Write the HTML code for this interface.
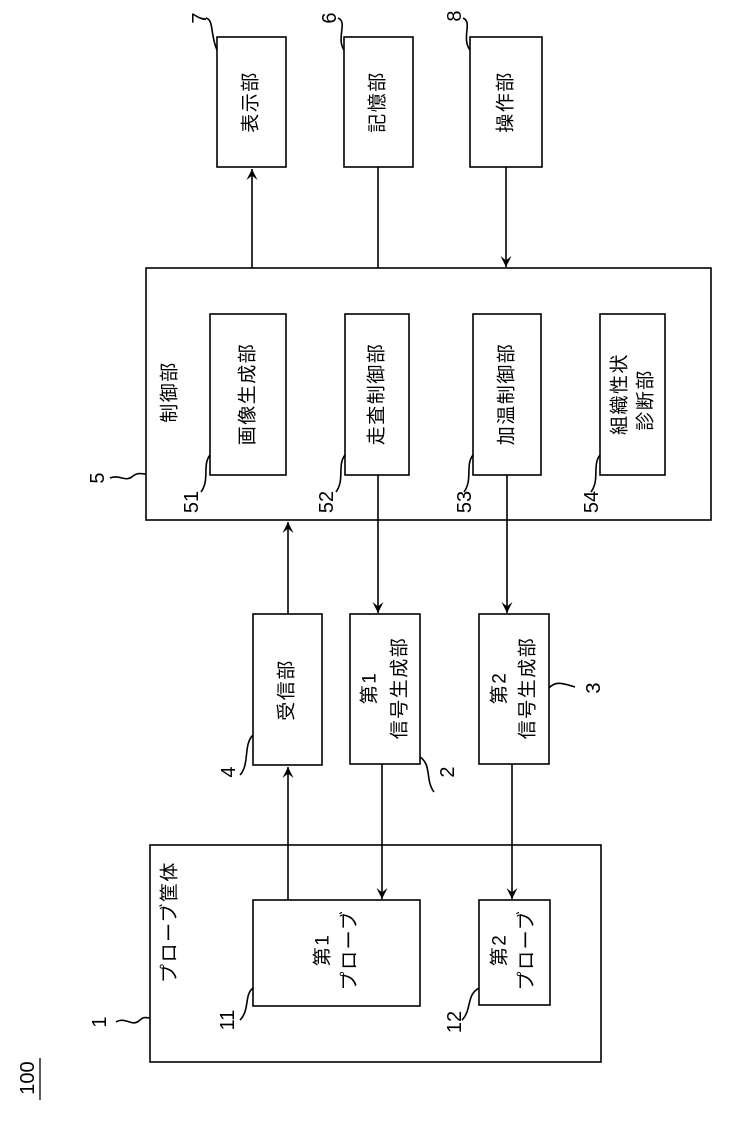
<!DOCTYPE html>
<html><head><meta charset="utf-8"><style>
html,body{margin:0;padding:0;background:#fff;}
svg{display:block;}
text{font-family:"Liberation Sans","Noto Sans CJK JP",sans-serif;font-size:19px;letter-spacing:1.5px;fill:#000;}
.n{font-size:20px;letter-spacing:0;}
</style></head><body>
<svg width="732" height="1122" viewBox="0 0 732 1122" xmlns="http://www.w3.org/2000/svg">
<defs>
<marker id="a" viewBox="0 0 10 10" refX="10" refY="5" markerWidth="11" markerHeight="11" orient="auto" markerUnits="userSpaceOnUse">
<path d="M0,0 L10,5 L0,10 L4,5 Z" fill="#000"/>
</marker>
</defs>
<g fill="none" stroke="#000" stroke-width="1.6">
<rect x="217" y="37" width="69" height="130"/>
<rect x="344" y="37" width="69" height="130"/>
<rect x="470" y="37" width="72" height="130"/>
<rect x="146" y="268" width="565" height="252"/>
<rect x="210" y="314" width="76" height="161"/>
<rect x="345" y="314" width="64" height="161"/>
<rect x="473" y="314" width="68" height="161"/>
<rect x="600" y="314" width="65" height="161"/>
<rect x="253" y="614" width="69" height="151"/>
<rect x="350" y="614" width="70" height="150"/>
<rect x="479" y="614" width="70" height="150"/>
<rect x="150" y="845" width="451" height="217"/>
<rect x="253" y="900" width="167" height="106"/>
<rect x="479" y="900" width="71" height="105"/>
<line x1="252" y1="268" x2="252" y2="169" marker-end="url(#a)"/>
<line x1="378" y1="167" x2="378" y2="268"/>
<line x1="506" y1="167" x2="506" y2="267" marker-end="url(#a)"/>
<line x1="288" y1="614" x2="288" y2="522" marker-end="url(#a)"/>
<line x1="378" y1="475" x2="378" y2="613" marker-end="url(#a)"/>
<line x1="507" y1="475" x2="507" y2="613" marker-end="url(#a)"/>
<line x1="288" y1="900" x2="288" y2="767" marker-end="url(#a)"/>
<line x1="382" y1="764" x2="382" y2="899" marker-end="url(#a)"/>
<line x1="512" y1="764" x2="512" y2="899" marker-end="url(#a)"/>
<path d="M206,18 C214,20 210,34 217,50"/>
<path d="M338,18 C348,22 336,38 344,50"/>
<path d="M463,18 C473,22 461,38 470,50"/>
<path d="M110,478 C120,474 125,483 133,476 C138,472 142,474 146,474"/>
<path d="M201,492 C210,480 202,465 210,455"/>
<path d="M336,492 C345,480 337,465 345,455"/>
<path d="M464,492 C473,480 465,465 473,455"/>
<path d="M591,492 C600,480 592,465 600,455"/>
<path d="M116,1022 C126,1016 132,1028 140,1020 C144,1016 147,1018 150,1018"/>
<path d="M240,1020 C250,1010 244,995 253,988"/>
<path d="M462,1020 C472,1010 466,995 479,988"/>
<path d="M240,775 C250,764 243,745 253,735"/>
<path d="M420,757 C432,765 425,780 434,792"/>
<path d="M549,688 C556,680 565,684 575,687"/>
</g>
<g text-anchor="middle" dominant-baseline="central">
<text transform="translate(251,102) rotate(-90)">表示部</text>
<text transform="translate(378,102) rotate(-90)">記憶部</text>
<text transform="translate(506,102) rotate(-90)">操作部</text>
<text transform="translate(170,392) rotate(-90)">制御部</text>
<text transform="translate(248,394) rotate(-90)">画像生成部</text>
<text transform="translate(377,394) rotate(-90)">走査制御部</text>
<text transform="translate(507,394) rotate(-90)">加温制御部</text>
<text transform="translate(620,394) rotate(-90)">組織性状</text>
<text transform="translate(646,400) rotate(-90)">診断部</text>
<text transform="translate(287,690) rotate(-90)">受信部</text>
<text transform="translate(370,688) rotate(-90)">第1</text>
<text transform="translate(400,688) rotate(-90)">信号生成部</text>
<text transform="translate(500,688) rotate(-90)">第2</text>
<text transform="translate(528,688) rotate(-90)">信号生成部</text>
<text transform="translate(170,922) rotate(-90)">プローブ筐体</text>
<text transform="translate(323,950) rotate(-90)">第1</text>
<text transform="translate(350,950) rotate(-90)">プローブ</text>
<text transform="translate(500,950) rotate(-90)">第2</text>
<text transform="translate(527,950) rotate(-90)">プローブ</text>
<text class="n" transform="translate(200,18) rotate(-90)">7</text>
<text class="n" transform="translate(330,18) rotate(-90)">6</text>
<text class="n" transform="translate(455,16) rotate(-90)">8</text>
<text class="n" transform="translate(98,478) rotate(-90)">5</text>
<text class="n" transform="translate(192,502) rotate(-90)">51</text>
<text class="n" transform="translate(327,502) rotate(-90)">52</text>
<text class="n" transform="translate(465,502) rotate(-90)">53</text>
<text class="n" transform="translate(592,502) rotate(-90)">54</text>
<text class="n" transform="translate(229,772) rotate(-90)">4</text>
<text class="n" transform="translate(448,772) rotate(-90)">2</text>
<text class="n" transform="translate(594,688) rotate(-90)">3</text>
<text class="n" transform="translate(100,1022) rotate(-90)">1</text>
<text class="n" transform="translate(228,1020) rotate(-90)">11</text>
<text class="n" transform="translate(455,1022) rotate(-90)">12</text>
<text class="n" transform="translate(28,1078) rotate(-90)">100</text>
</g>
<line x1="40" y1="1058" x2="40" y2="1100" stroke="#000" stroke-width="1.3"/>
</svg>
</body></html>
